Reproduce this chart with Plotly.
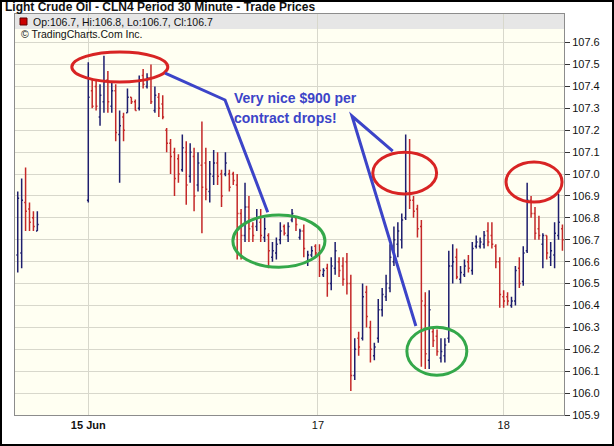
import plotly.graph_objects as go

# bar slots (30 minute bars); Friday's last bars, then the week from Sunday evening
slots = [-18, -17, -16, -15, -14, -13] + list(range(0, 122))

opens = [106.63, 106.64, 106.87, 106.84, 106.80, 106.74,
         106.88, 107.38, 107.40, 107.26, 107.33, 107.43, 107.31, 107.38, 107.18, 107.26,
         107.28, 107.35, 107.33, 107.30, 107.45, 107.40, 107.44, 107.29, 107.35, 107.32,
         107.20, 107.14, 107.10, 107.07, 107.02, 107.10, 106.99, 107.08, 106.95, 107.04,
         107.05, 106.92, 106.99, 107.05, 107.00, 107.00, 107.00, 107.00, 106.95, 106.82,
         106.72, 106.85, 106.76, 106.76, 106.78, 106.71, 106.72, 106.62, 106.64, 106.70,
         106.76, 106.72, 106.79, 106.80, 106.71, 106.74, 106.60, 106.63, 106.67, 106.64,
         106.54, 106.57, 106.50, 106.57, 106.60, 106.58, 106.60, 106.50, 106.08, 106.25,
         106.25, 106.46, 106.30, 106.17, 106.25, 106.38, 106.44, 106.48, 106.60, 106.68,
         106.70, 106.80, 107.10, 106.88, 106.84, 106.76, 106.40, 106.15, 106.28, 106.26,
         106.16, 106.17, 106.25, 106.58, 106.62, 106.52, 106.54, 106.60, 106.56, 106.67,
         106.67, 106.68, 106.74, 106.72, 106.67, 106.60, 106.44, 106.44, 106.40, 106.42,
         106.57, 106.51, 106.65, 106.88, 106.82, 106.75, 106.68, 106.72, 106.62, 106.63,
         106.72, 106.75]
highs = [106.92, 106.98, 107.03, 106.87, 106.83, 106.83,
         107.51, 107.43, 107.43, 107.41, 107.54, 107.47, 107.42, 107.41, 107.29, 107.28,
         107.39, 107.35, 107.34, 107.45, 107.48, 107.46, 107.50, 107.40, 107.37, 107.36,
         107.21, 107.16, 107.12, 107.09, 107.18, 107.15, 107.14, 107.12, 107.10, 107.24,
         107.12, 107.06, 107.11, 107.10, 107.02, 107.10, 107.02, 107.01, 107.00, 106.84,
         106.96, 106.90, 106.78, 106.84, 106.84, 106.80, 106.73, 106.69, 106.71, 106.78,
         106.77, 106.78, 106.84, 106.80, 106.75, 106.77, 106.65, 106.67, 106.68, 106.68,
         106.57, 106.59, 106.62, 106.69, 106.62, 106.62, 106.64, 106.54, 106.25, 106.28,
         106.50, 106.49, 106.33, 106.23, 106.43, 106.48, 106.54, 106.68, 106.76, 106.78,
         106.82, 107.18, 107.16, 106.90, 106.86, 106.79, 106.46, 106.47, 106.30, 106.29,
         106.25, 106.25, 106.65, 106.68, 106.66, 106.58, 106.61, 106.63, 106.69, 106.72,
         106.71, 106.74, 106.78, 106.78, 106.68, 106.62, 106.47, 106.46, 106.44, 106.58,
         106.62, 106.67, 106.96, 106.90, 106.85, 106.81, 106.73, 106.72, 106.69, 106.78,
         106.91, 106.77]
lows = [106.55, 106.57, 106.74, 106.74, 106.74, 106.74,
        106.87, 107.30, 107.29, 107.22, 107.28, 107.28, 107.28, 107.15, 106.96, 107.15,
        107.28, 107.32, 107.29, 107.29, 107.39, 107.39, 107.32, 107.28, 107.26, 107.25,
        107.10, 107.00, 106.90, 106.96, 107.01, 106.86, 106.96, 106.83, 106.92, 106.73,
        106.88, 106.87, 106.95, 106.95, 106.85, 106.99, 106.92, 106.95, 106.61, 106.61,
        106.69, 106.69, 106.69, 106.74, 106.69, 106.69, 106.57, 106.60, 106.61, 106.68,
        106.72, 106.69, 106.78, 106.74, 106.70, 106.62, 106.58, 106.62, 106.62, 106.53,
        106.53, 106.44, 106.47, 106.54, 106.53, 106.49, 106.45, 106.01, 106.06, 106.17,
        106.24, 106.30, 106.14, 106.15, 106.23, 106.35, 106.42, 106.46, 106.58, 106.62,
        106.66, 106.79, 106.84, 106.80, 106.71, 106.12, 106.11, 106.11, 106.21, 106.17,
        106.14, 106.14, 106.23, 106.50, 106.52, 106.50, 106.53, 106.55, 106.54, 106.66,
        106.66, 106.66, 106.67, 106.66, 106.57, 106.39, 106.39, 106.40, 106.39, 106.40,
        106.48, 106.49, 106.64, 106.80, 106.70, 106.70, 106.57, 106.61, 106.58, 106.57,
        106.70, 106.65]
closes = [106.89, 106.88, 106.83, 106.78, 106.76, 106.77,
          107.35, 107.31, 107.31, 107.36, 107.42, 107.33, 107.38, 107.19, 107.22, 107.20,
          107.35, 107.33, 107.29, 107.43, 107.41, 107.44, 107.33, 107.36, 107.30, 107.26,
          107.14, 107.08, 106.98, 107.00, 107.12, 106.95, 107.10, 106.90, 107.05, 106.94,
          106.93, 107.00, 107.05, 106.99, 106.90, 107.05, 106.94, 106.97, 106.82, 106.72,
          106.85, 106.75, 106.72, 106.80, 106.72, 106.75, 106.65, 106.65, 106.68, 106.74,
          106.73, 106.76, 106.82, 106.77, 106.74, 106.66, 106.63, 106.65, 106.64, 106.56,
          106.56, 106.50, 106.58, 106.65, 106.56, 106.52, 106.50, 106.08, 106.20, 106.21,
          106.44, 106.35, 106.20, 106.21, 106.38, 106.45, 106.50, 106.62, 106.70, 106.74,
          106.79, 106.92, 106.88, 106.83, 106.75, 106.42, 106.18, 106.38, 106.24, 106.19,
          106.19, 106.22, 106.58, 106.60, 106.53, 106.55, 106.58, 106.57, 106.66, 106.69,
          106.69, 106.72, 106.69, 106.68, 106.60, 106.45, 106.42, 106.42, 106.42, 106.56,
          106.50, 106.64, 106.88, 106.82, 106.73, 106.72, 106.72, 106.64, 106.65, 106.73,
          106.78, 106.70]

x_tick_pos = [0, 58.6, 106]
x_tick_text = ["<b>15 Jun</b>", "17", "18"]
y_ticks = [105.9, 106.0, 106.1, 106.2, 106.3, 106.4, 106.5, 106.6, 106.7, 106.8,
           106.9, 107.0, 107.1, 107.2, 107.3, 107.4, 107.5, 107.6]

BLUE_BAR = "#1e1e6e"
RED_BAR = "#c42828"
NOTE_BLUE = "#3c44c8"
NOTE_RED = "#d82424"
NOTE_GREEN = "#34a84a"
FONT = "Liberation Sans, Arial, sans-serif"

W, H = 614, 446
L, R, T, B = 15, 564, 14, 415


def px(x):
    return (x - L) / (R - L)


def py(y):
    return (B - y) / (B - T)


fig = go.Figure()
fig.add_trace(go.Ohlc(
    x=slots, open=opens, high=highs, low=lows, close=closes,
    increasing=dict(line=dict(color=BLUE_BAR, width=1.5)),
    decreasing=dict(line=dict(color=RED_BAR, width=1.5)),
    tickwidth=0.35, hoverinfo="skip", showlegend=False,
))

shapes = [
    # header band
    dict(type="rect", xref="paper", yref="paper", x0=0, x1=1, y0=py(29), y1=1,
         fillcolor="#e6e6e6", line=dict(width=0), layer="below"),
    dict(type="rect", xref="paper", yref="paper", x0=px(20), x1=px(27), y0=py(25), y1=py(18),
         fillcolor="#cc0000", line=dict(color="#600000", width=1)),
    # outer frame
    dict(type="rect", xref="paper", yref="paper", x0=px(1), x1=px(W - 1), y0=py(H - 1), y1=py(1),
         line=dict(color="black", width=2)),
    # notes
    dict(type="circle", xref="x", yref="y", x0=-4.2, x1=20.3, y0=107.42, y1=107.557,
         line=dict(color=NOTE_RED, width=3)),
    dict(type="circle", xref="x", yref="y", x0=36.9, x1=60.4, y0=106.575, y1=106.813,
         line=dict(color=NOTE_GREEN, width=3)),
    dict(type="circle", xref="x", yref="y", x0=72.6, x1=88.9, y0=106.909, y1=107.10,
         line=dict(color=NOTE_RED, width=3)),
    dict(type="circle", xref="x", yref="y", x0=81.3, x1=96.6, y0=106.082, y1=106.301,
         line=dict(color=NOTE_GREEN, width=3)),
    dict(type="circle", xref="x", yref="y", x0=106.6, x1=120.9, y0=106.872, y1=107.055,
         line=dict(color=NOTE_RED, width=3)),
    dict(type="path", xref="x", yref="y",
         path="M 19.6,107.461 L 34.9,107.338 L 45.8,106.826",
         line=dict(color=NOTE_BLUE, width=3)),
    dict(type="path", xref="x", yref="y",
         path="M 77.7,107.105 L 67.3,107.265 L 83.6,106.306",
         line=dict(color=NOTE_BLUE, width=3)),
]

annotations = [
    dict(text="<b>Light Crude Oil - CLN4 Period 30 Minute - Trade Prices</b>",
         xref="paper", yref="paper", x=px(3), y=py(7), xanchor="left", yanchor="middle",
         showarrow=False, font=dict(family=FONT, size=12, color="#111")),
    dict(text="Op:106.7, Hi:106.8, Lo:106.7, Cl:106.7",
         xref="paper", yref="paper", x=px(31), y=py(21.5), xanchor="left", yanchor="middle",
         showarrow=False, font=dict(family=FONT, size=10.5, color="#111")),
    dict(text="© TradingCharts.Com Inc.",
         xref="paper", yref="paper", x=px(19), y=py(34.5), xanchor="left", yanchor="middle",
         showarrow=False, font=dict(family=FONT, size=10.5, color="#111")),
    dict(text="<b>Very nice $900 per</b>", xref="x", yref="y", x=36.7, y=107.347,
         xanchor="left", yanchor="middle", showarrow=False,
         font=dict(family=FONT, size=14, color=NOTE_BLUE)),
    dict(text="<b>contract drops!</b>", xref="x", yref="y", x=36.7, y=107.256,
         xanchor="left", yanchor="middle", showarrow=False,
         font=dict(family=FONT, size=14, color=NOTE_BLUE)),
]

fig.update_layout(
    width=W, height=H,
    margin=dict(l=L, r=W - R, t=T, b=H - B, pad=0),
    paper_bgcolor="white",
    plot_bgcolor="#fffff2",
    font=dict(family=FONT, size=11, color="#111"),
    shapes=shapes,
    annotations=annotations,
    showlegend=False,
)
fig.update_xaxes(
    range=[-18.7, 121.4], rangeslider_visible=False,
    tickvals=x_tick_pos, ticktext=x_tick_text, ticks="",
    showgrid=True, gridcolor="#d8d8cc", gridwidth=1, zeroline=False,
    showline=True, linecolor="#8c8c8c", linewidth=1, mirror=True,
    tickfont=dict(size=11, color="#111"),
)
fig.update_yaxes(
    range=[105.9, 107.7306], side="right",
    tickvals=y_ticks, ticktext=["%.1f" % v for v in y_ticks],
    ticks="outside", ticklen=5, tickcolor="#333",
    showgrid=True, gridcolor="#d8d8cc", gridwidth=1, zeroline=False,
    showline=True, linecolor="#8c8c8c", linewidth=1, mirror=True,
    tickfont=dict(size=11, color="#111"),
)

# page has a default 8px body margin; drop it so the figure fills the window
fig.write_html("out.html", config={"displayModeBar": False},
               post_script="document.body.style.margin='0px';")
